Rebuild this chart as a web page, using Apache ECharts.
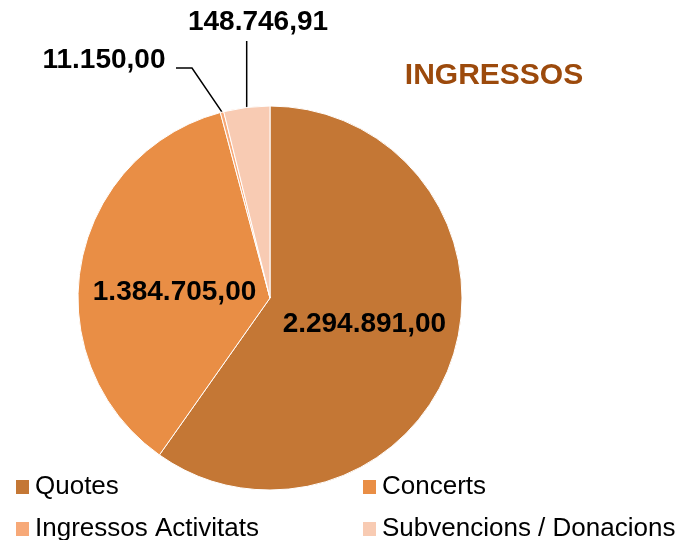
<!DOCTYPE html>
<html><head><meta charset="utf-8">
<script src="https://cdn.jsdelivr.net/npm/echarts@6/dist/echarts.min.js"></script>
<style>html,body{margin:0;padding:0;background:#fff}#c{width:689px;height:540px}</style>
</head><body><div id="c"></div>
<script>
var categories = ['Quotes', 'Concerts', 'Ingressos Activitats', 'Subvencions / Donacions'];
var values = [2294891.00, 1384705.00, 11150.00, 148746.91];
var colors = ['#C47735', '#E98E45', '#F7A978', '#F8CBB3'];
var titleText = 'INGRESSOS';

function fmt(v){
  var parts = v.toFixed(2).split('.');
  var ip = parts[0].replace(/\B(?=(\d{3})+(?!\d))/g, '.');
  return ip + ',' + parts[1];
}

var data = categories.map(function(c, i){
  var d = {name: c, value: values[i], itemStyle: {color: colors[i]}};
  if (i < 2) {
    d.label = {position: 'inside', offset: i === 1 ? [2, 12] : [0, -4]};
    d.labelLine = {show: false};
  }
  return d;
});

var chart = echarts.init(document.getElementById('c'));
chart.setOption({
  animation: false,
  title: {text: titleText, left: 489, top: 56, textAlign: 'center',
    textStyle: {color: '#9C4A0C', fontSize: 30, fontWeight: 'bold', fontFamily: 'Liberation Sans'}},
  legend: {
    left: 9, top: 466, orient: 'horizontal', width: 689,
    icon: 'rect', itemWidth: 15, itemHeight: 16, itemGap: 10,
    textStyle: {fontSize: 26, fontFamily: 'Liberation Sans', color: '#000', width: 316, lineHeight: 32},
    data: categories
  },
  series: [{
    type: 'pie', center: [270, 298], radius: 192, startAngle: 90, clockwise: true,
    itemStyle: {borderColor: '#fff', borderWidth: 1},
    label: {show: true, position: 'outside', overflow: 'none', formatter: function(p){return fmt(p.value);},
      fontSize: 28, fontWeight: 'bold', fontFamily: 'Liberation Sans', color: '#000'},
    labelLine: {show: true, lineStyle: {color: '#000', width: 1.5}},
    labelLayout: function(p){
      if (p.dataIndex === 2 && p.labelLinePoints) {
        var s = p.labelLinePoints[0];
        return {x: 104, y: 60, width: 160, align: 'center', verticalAlign: 'middle',
          labelLinePoints: [s, [192, 68], [176, 68]]};
      }
      if (p.dataIndex === 3 && p.labelLinePoints) {
        var s2 = p.labelLinePoints[0];
        return {x: 258, y: 22, width: 180, align: 'center', verticalAlign: 'middle',
          labelLinePoints: [s2, [s2[0], 41], [s2[0], 41]]};
      }
      return {};
    },
    data: data
  }]
});
</script></body></html>
